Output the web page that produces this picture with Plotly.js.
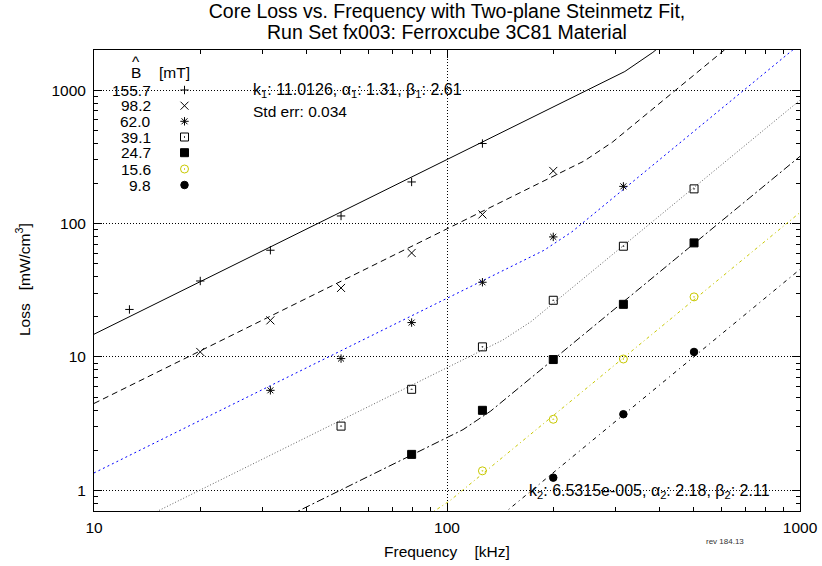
<!DOCTYPE html>
<html><head><meta charset="utf-8">
<script src="https://cdn.plot.ly/plotly-3.0.1.min.js"></script>
<style>html,body{margin:0;padding:0;background:#fff}#chart{width:822px;height:566px}</style>
</head><body><div id="chart"></div>
<script>
// ---- data ----
const bLabels = ['155.7', '98.2', '62.0', '39.1', '24.7', '15.6', '9.8'];

// measured points: frequency [kHz], loss [mW/cm^3]
const f155 = [12.6, 20, 31.6, 50.1, 79.4, 126];
const p155 = [22.7, 37.1, 63.1, 114, 205, 398];
const f98 = [20, 31.6, 50.1, 79.4, 126, 200];
const p98 = [10.9, 18.8, 32.9, 60.2, 117, 248];
const f62 = [31.6, 50.1, 79.4, 126, 200, 316];
const p62 = [5.62, 9.72, 18.1, 36.3, 79.4, 190];
const f39 = [50.1, 79.4, 126, 200, 316, 501];
const p39 = [3.03, 5.72, 11.9, 26.6, 67.6, 182];
const f24 = [79.4, 126, 200, 316, 501];
const p24 = [1.86, 3.98, 9.56, 24.8, 71.6];
const f15 = [126, 200, 316, 501];
const p15 = [1.40, 3.41, 9.65, 28.2];
const f9 = [200, 316, 501];
const p9 = [1.245, 3.72, 10.9];

// fitted curves: vertices
const fit155F = [10, 319, 383, 562];
const fit155P = [14.8, 1380, 1920, 4420];
const fit98F = [10, 245, 294, 708];
const fit98P = [4.48, 295, 407, 2760];
const fit62F = [10, 188, 226, 1000];
const fit62P = [1.35, 62.9, 86.8, 2220];
const fit39F = [14, 144, 173, 1000];
const fit39P = [0.63, 13.4, 18.4, 841];
const fit24F = [35.5, 111, 133, 1000];
const fit24P = [0.642, 2.85, 3.93, 319];
const fit15F = [79.4, 85.0, 102, 1000];
const fit15P = [0.556, 0.607, 0.838, 121];
const fit9F = [126, 1000];
const fit9P = [0.495, 45.4];

// axis ticks
const xTickVals = [10, 100, 1000];
const xTickText = ['10', '100', '1000'];
const yTickVals = [1, 10, 100, 1000];
const yTickText = ['1', '10', '100', '1000'];
const xMinorVals = [20, 30, 40, 50, 60, 70, 80, 90, 200, 300, 400, 500, 600, 700, 800, 900];
const yMinorVals = [0.8, 0.9, 2, 3, 4, 5, 6, 7, 8, 9, 20, 30, 40, 50, 60, 70, 80, 90,
  200, 300, 400, 500, 600, 700, 800, 900];

// ---- styles ----
const ptsF = [f155, f98, f62, f39, f24, f15, f9];
const ptsP = [p155, p98, p62, p39, p24, p15, p9];
const fitF = [fit155F, fit98F, fit62F, fit39F, fit24F, fit15F, fit9F];
const fitP = [fit155P, fit98P, fit62P, fit39P, fit24P, fit15P, fit9P];

const symbols = ['cross-thin-open', 'x-thin-open', 'asterisk-open', 'square-open-dot', 'square', 'circle-open-dot', 'circle'];
const msizes = [6, 8, 7, 8, 8, 8, 7.5];
const mcolors = ['#000', '#000', '#000', '#000', '#000', '#c8c800', '#000'];
const lcolors = ['#000', '#000', '#0000ff', '#606060', '#000', '#c8c800', '#000'];
const ldash = ['solid', '6px,4px', '2px,3px', '1px,2px', '8px,3px,2px,3px', '3px,3px,1px,3px', '4px,4px,1px,4px'];

const FONT = 'Liberation Sans, Arial, Helvetica, sans-serif';
const fx = px => (px - 94) / 706;
const fy = py => (511 - py) / 461;

const traces = [];
for (let i = 0; i < bLabels.length; i++) {
  traces.push({
    x: fitF[i], y: fitP[i], type: 'scatter', mode: 'lines',
    line: {color: lcolors[i], width: 1, dash: ldash[i]},
    hoverinfo: 'skip', showlegend: false
  });
}
for (let i = 0; i < bLabels.length; i++) {
  traces.push({
    x: ptsF[i], y: ptsP[i], type: 'scatter', mode: 'markers', name: bLabels[i],
    marker: {symbol: symbols[i], size: msizes[i], color: mcolors[i], line: {color: mcolors[i], width: 1}},
    showlegend: false
  });
}
// key symbols (in an overlay frame of the plot area)
const keyRows = [90, 105.7, 121.3, 137, 152.7, 169, 185];
for (let i = 0; i < bLabels.length; i++) {
  traces.push({
    x: [fx(184.5)], y: [fy(keyRows[i])], xaxis: 'x2', yaxis: 'y2',
    type: 'scatter', mode: 'markers',
    marker: {symbol: symbols[i], size: msizes[i], color: mcolors[i], line: {color: mcolors[i], width: 1}},
    hoverinfo: 'skip', showlegend: false
  });
}

const annotations = [];
function ann(text, x, y, xanchor, opts) {
  annotations.push(Object.assign({
    text: text, x: x, y: y, xref: 'paper', yref: 'paper', xanchor: xanchor, yanchor: 'middle',
    showarrow: false, font: {family: FONT, size: 15.5, color: '#000'}, borderpad: 0
  }, opts || {}));
}
ann('Run Set fx003: Ferroxcube 3C81 Material', 0.5, fy(32), 'center', {font: {family: FONT, size: 19.5, color: '#000'}});
ann('^', fx(136), fy(61), 'center');
ann('B', fx(136), fy(72.5), 'center');
ann('[mT]', fx(174.5), fy(72.5), 'center');
for (let i = 0; i < bLabels.length; i++) ann(bLabels[i], fx(152), fy(keyRows[i]), 'right');
ann('k<sub>1</sub>: 11.0126, \u03b1<sub>1</sub>: 1.31, \u03b2<sub>1</sub>: 2.61', fx(252), fy(91), 'left', {font: {family: FONT, size: 16, color: '#000'}});
ann('Std err: 0.034', fx(252), fy(111), 'left');
ann('k<sub>2</sub>: 6.5315e-005, \u03b1<sub>2</sub>: 2.18, \u03b2<sub>2</sub>: 2.11', fx(528), fy(491), 'left', {font: {family: FONT, size: 16, color: '#000'}});
ann('Frequency\u00a0\u00a0\u00a0\u00a0[kHz]', fx(447), fy(551.5), 'center');
ann('Loss\u00a0\u00a0\u00a0[mW/cm<sup>3</sup>]', fx(23), fy(280), 'center', {textangle: -90});
ann('rev 184.13', fx(725), fy(541.5), 'center', {font: {family: FONT, size: 8, color: '#333'}});

const axisCommon = {
  type: 'log', tickmode: 'array', ticks: 'inside', ticklen: 8, tickwidth: 1, tickcolor: '#000',
  showline: true, linecolor: '#000', linewidth: 1, mirror: 'allticks',
  showgrid: true, gridcolor: '#000', gridwidth: 1, griddash: '1px,2px',
  zeroline: false, fixedrange: true,
  tickfont: {family: FONT, size: 15.5, color: '#000'}
};

const layout = {
  width: 822, height: 566,
  margin: {l: 94, r: 22, t: 50, b: 55, pad: 0},
  paper_bgcolor: '#fff', plot_bgcolor: '#fff',
  showlegend: false,
  font: {family: FONT, size: 15.5, color: '#000'},
  title: {
    text: 'Core Loss vs. Frequency with Two-plane Steinmetz Fit,',
    x: 0.5, xref: 'paper', xanchor: 'center', y: 1 - 11 / 566, yref: 'container', yanchor: 'middle',
    font: {family: FONT, size: 19.5, color: '#000'}
  },
  xaxis: Object.assign({}, axisCommon, {
    range: [1, 3], tickvals: xTickVals, ticktext: xTickText, ticklabelstandoff: 2,
    minor: {tickmode: 'array', tickvals: xMinorVals, ticks: 'inside', ticklen: 4, tickwidth: 1, tickcolor: '#000', showgrid: false}
  }),
  yaxis: Object.assign({}, axisCommon, {
    range: [Math.log10(0.7), Math.log10(2000)], tickvals: yTickVals, ticktext: yTickText, ticklabelstandoff: 4,
    minor: {tickmode: 'array', tickvals: yMinorVals, ticks: 'inside', ticklen: 4, tickwidth: 1, tickcolor: '#000', showgrid: false}
  }),
  xaxis2: {overlaying: 'x', range: [0, 1], visible: false, fixedrange: true},
  yaxis2: {overlaying: 'y', range: [0, 1], visible: false, fixedrange: true},
  shapes: [{
    type: 'rect', xref: 'paper', yref: 'paper', x0: fx(95), x1: fx(217), y0: fy(195), y1: 1,
    fillcolor: '#fff', line: {width: 0}, layer: 'between'
  }],
  annotations: annotations
};

Plotly.newPlot('chart', traces, layout, {staticPlot: true, displayModeBar: false});
</script>
</body></html>
